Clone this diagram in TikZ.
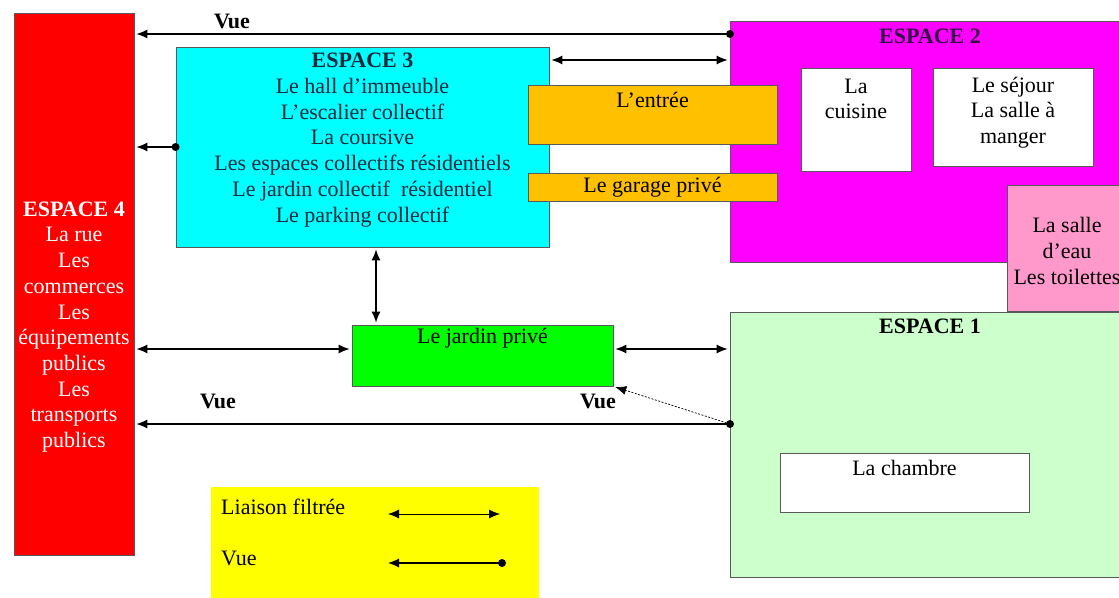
\documentclass[tikz,border=0pt]{standalone}
\usepackage{fontspec}
\setmainfont{Liberation Serif}
\usetikzlibrary{arrows.meta,calc}
\definecolor{cRed}{RGB}{255,0,0}
\definecolor{cCyan}{RGB}{0,255,255}
\definecolor{cMag}{RGB}{255,0,255}
\definecolor{cOrange}{RGB}{255,192,0}
\definecolor{cPink}{RGB}{255,153,204}
\definecolor{cLgreen}{RGB}{204,255,204}
\definecolor{cGreen}{RGB}{0,255,0}
\definecolor{cYellow}{RGB}{255,255,0}
\definecolor{cTxtA}{RGB}{20,40,60}
\definecolor{cTxtB}{RGB}{50,15,70}
\begin{document}
\begin{tikzpicture}[x=1pt,y=-1pt,
  box/.style={draw=black!65, line width=0.8pt, inner sep=0pt, rectangle},
  txt/.style={font=\fontsize{22}{25.7}\selectfont, align=center, inner sep=0pt},
  link/.style={line width=1.1pt, {Latex[length=11pt,width=9pt]}-{Latex[length=11pt,width=9pt]}, shorten <=2pt, shorten >=2pt},
  vue/.style={line width=1.1pt, -{Latex[length=11pt,width=9pt]}, shorten >=2pt},
  vlab/.style={font=\fontsize{22}{25.7}\selectfont\bfseries, inner sep=0pt},
  dot/.style={fill=black},
]
\clip (0,0) rectangle (1119,597);
\fill[white] (0,0) rectangle (1119,597);

% boxes
\node[box, fill=cRed, minimum width=120pt, minimum height=542pt] (e4) at (74,284) {};
\node[box, fill=cCyan, minimum width=373pt, minimum height=200pt] (e3) at (362.5,147) {};
\node[box, fill=cMag, minimum width=400pt, minimum height=241pt] (e2) at (930,141.5) {};
\node[box, fill=cLgreen, minimum width=400pt, minimum height=265pt] (e1) at (930,444.5) {};
\node[box, fill=cPink, minimum width=120pt, minimum height=126pt] (eau) at (1067,248) {};
\node[box, fill=cOrange, minimum width=249pt, minimum height=59pt] (entree) at (652.5,114.5) {};
\node[box, fill=cOrange, minimum width=249pt, minimum height=28pt] (garage) at (652.5,187) {};
\node[box, fill=white, minimum width=110pt, minimum height=103pt] (cuisine) at (856,119.5) {};
\node[box, fill=white, minimum width=160pt, minimum height=98pt] (sejour) at (1013,117) {};
\node[box, fill=white, minimum width=249pt, minimum height=59pt] (chambre) at (904.5,482.5) {};
\node[box, fill=cGreen, minimum width=261pt, minimum height=61pt] (jardin) at (482.5,355.5) {};
\node[fill=cYellow, inner sep=0pt, minimum width=328pt, minimum height=113pt] (legend) at (375,543.5) {};

% texts
\node[txt, text=white] (e4t) at (74,327) {\textbf{ESPACE 4}\\La rue\\Les\\commerces\\Les\\équipements\\publics\\Les\\transports\\publics};
\node[txt, text=cTxtA] (e3t) at (362.5,140) {\textbf{ESPACE 3}\\Le hall d’immeuble\\L’escalier collectif\\La coursive\\Les espaces collectifs résidentiels\\Le jardin collectif\ \ résidentiel\\Le parking collectif};
\node[txt, text=cTxtB] (e2t) at (930,36) {\textbf{ESPACE 2}};
\node[txt] (e1t) at (930,326) {\textbf{ESPACE 1}};
\node[txt] (entreet) at (652.5,100) {L’entrée};
\node[txt] (garaget) at (652.5,187) {Le garage privé};
\node[txt] (cuisinet) at (856,99) {La\\cuisine};
\node[txt] (sejourt) at (1013,112.5) {Le séjour\\La salle à\\manger};
\node[txt] (eaut) at (1067,251) {La salle\\d’eau\\Les toilettes};
\node[txt] (chambret) at (904.5,468) {La chambre};
\node[txt] (jardint) at (482.5,338) {Le jardin privé};
\node[txt, anchor=west] (lg1) at (221,507) {Liaison filtrée};
\node[txt, anchor=west] (lg2) at (221,558) {Vue};

% connectors
\coordinate (d1) at (730,34);
\draw[vue] (d1) -- (d1 -| e4.east);
\fill[dot] (d1) circle (4pt);
\node[vlab] (vl1) at (232,21) {Vue};

\coordinate (a2) at (0,60);
\draw[link] (a2 -| e3.east) -- (a2 -| e2.west);

\draw[vue] (e3.west) -- (e3.west -| e4.east);
\fill[dot] (e3.west) circle (4pt);

\coordinate (vx) at (376,0);
\draw[link] (e3.south -| vx) -- (jardin.north -| vx);

\coordinate (jy) at (0,349);
\draw[link] (jy -| e4.east) -- (jy -| jardin.west);
\draw[link] (jy -| jardin.east) -- (jy -| e1.west);

\coordinate (d2) at (730,424);
\draw[vue] (d2) -- (d2 -| e4.east);
\draw[line width=0.7pt, dash pattern=on 2pt off 1.5pt, -{Latex[length=11pt,width=9pt]}, shorten >=2pt] (d2) -- (jardin.south east);
\fill[dot] (d2) circle (4pt);
\node[vlab] (vl2) at (218,401) {Vue};
\node[vlab] (vl3) at (598,401) {Vue};

% legend arrows
\coordinate (l1a) at (388,514);
\coordinate (l1b) at (500,514);
\draw[line width=0.8pt, {Latex[length=11pt,width=9pt]}-{Latex[length=11pt,width=9pt]}] (l1a) -- (l1b);
\coordinate (l2a) at (502,563);
\coordinate (l2b) at (388,563);
\draw[line width=1.1pt, -{Latex[length=11pt,width=9pt]}] (l2a) -- (l2b);
\fill[dot] (l2a) circle (4pt);
\end{tikzpicture}
\end{document}
